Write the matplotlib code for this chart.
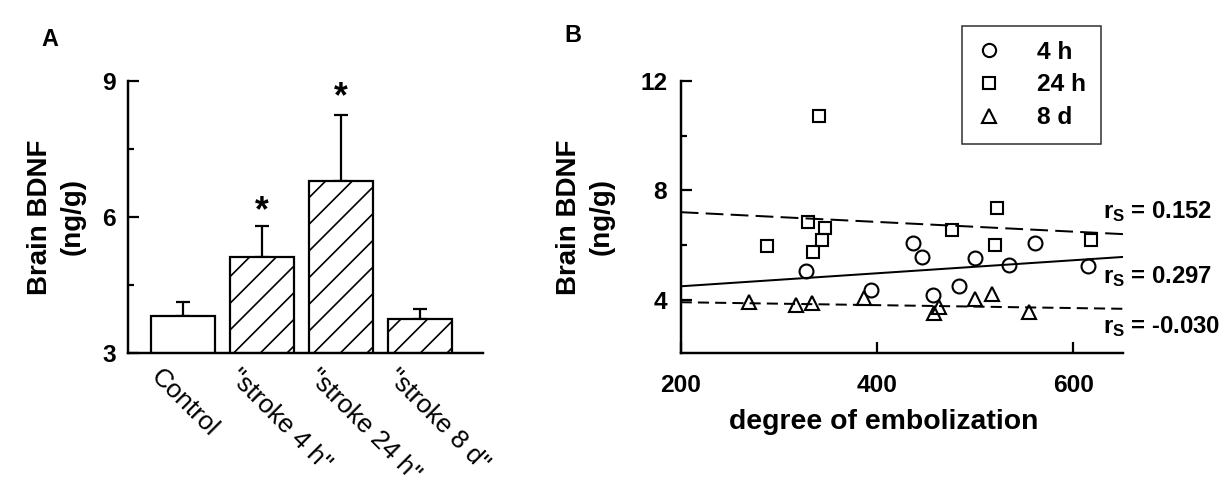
import numpy as np
import matplotlib.pyplot as plt
from matplotlib.ticker import MultipleLocator
import matplotlib.transforms as mtransforms

plt.rcParams['font.family'] = ['Liberation Sans', 'DejaVu Sans']
plt.rcParams['mathtext.fontset'] = 'custom'
plt.rcParams['mathtext.rm'] = 'Liberation Sans:bold'
plt.rcParams['hatch.linewidth'] = 1.5
plt.rcParams['lines.scale_dashes'] = False

# panel A data
groups = ['Control', '"stroke 4 h"', '"stroke 24 h"', '"stroke 8 d"']
bdnf_mean = [3.82, 5.12, 6.80, 3.74]
bdnf_err = [0.31, 0.67, 1.45, 0.23]
hatched = [False, True, True, True]
star_y = [None, 6.12, 8.62, None]

# panel B data (degree of embolization vs brain BDNF)
x_4h = [328, 437, 446, 394, 457, 484, 500, 535, 561, 615]
y_4h = [5.06, 6.08, 5.56, 4.39, 4.20, 4.52, 5.53, 5.29, 6.08, 5.26]
x_24h = [341, 288, 330, 347, 344, 335, 476, 522, 520, 618]
y_24h = [10.70, 5.96, 6.87, 6.63, 6.19, 5.75, 6.56, 7.37, 6.02, 6.20]
x_8d = [270, 317, 334, 387, 458, 463, 500, 517, 555]
y_8d = [3.94, 3.84, 3.90, 4.08, 3.52, 3.76, 4.06, 4.24, 3.58]

# regression lines (end points) and spearman labels
fit_x = [200, 651]
fit_4h = [4.51, 5.58]
fit_24h = [7.21, 6.41]
fit_8d = [3.93, 3.69]
rs_text = ['0.152', '0.297', '-0.030']
rs_y = [7.24, 4.87, 3.05]

DPI = 80
fig = plt.figure(figsize=(1226 / DPI, 487 / DPI), dpi=DPI)
W, H = 1226, 487

def px_axes(left, top, right, bottom):
    return fig.add_axes([left / W, 1 - bottom / H, (right - left) / W, (bottom - top) / H])

def style_axes(ax):
    for s in ['top', 'right']:
        ax.spines[s].set_visible(False)
    for s in ['left', 'bottom']:
        ax.spines[s].set_linewidth(2.2)
    ax.tick_params(which='both', direction='in', width=2, labelsize=22)
    ax.tick_params(which='major', length=10)
    ax.tick_params(which='minor', length=5)
    for lab in ax.get_yticklabels():
        lab.set_fontweight('bold')

# ---------------- Panel A ----------------
axA = px_axes(128, 80.7, 483, 353)
xpos = np.arange(len(groups))
for i in range(len(groups)):
    axA.bar(xpos[i], bdnf_mean[i], width=0.814, bottom=0, color='white',
            edgecolor='black', linewidth=2, hatch='/' if hatched[i] else None, zorder=2)
    axA.errorbar(xpos[i], bdnf_mean[i], yerr=[[0], [bdnf_err[i]]], fmt='none',
                 ecolor='black', elinewidth=2, capsize=6, capthick=2, zorder=1)
    if star_y[i] is not None:
        axA.text(xpos[i], star_y[i], '*', ha='center', va='center',
                 fontsize=32, fontweight='bold')
axA.set_xlim(-0.694, 3.80)
axA.set_ylim(3, 9)
axA.yaxis.set_major_locator(MultipleLocator(3))
axA.yaxis.set_minor_locator(MultipleLocator(1.5))
style_axes(axA)
axA.tick_params(axis='y', pad=11)
axA.set_xticks(xpos)
axA.set_xticklabels(groups, rotation=-45, ha='left', va='top',
                    rotation_mode='anchor', fontsize=23.5)
axA.tick_params(axis='x', length=0, pad=10)
offset = mtransforms.ScaledTranslation(-20 / DPI, 0, fig.dpi_scale_trans)
for lab in axA.get_xticklabels():
    lab.set_transform(lab.get_transform() + offset)
axA.set_ylabel('Brain BDNF\n(ng/g)', fontsize=25, fontweight='bold', linespacing=1.3)
axA.yaxis.set_label_coords(-0.12, 0.5)
fig.text(50 / W, 1 - 40 / H, 'A', fontsize=21, fontweight='bold', ha='center', va='center')

# ---------------- Panel B ----------------
axB = px_axes(680.7, 80.7, 1123.3, 353)
ms = 12.5
axB.plot(x_4h, y_4h, 'o', mfc='none', mec='black', mew=1.9, ms=ms, label='4 h', zorder=3)
axB.plot(x_24h, y_24h, 's', mfc='none', mec='black', mew=1.9, ms=ms - 1, label='24 h', zorder=3)
axB.plot(x_8d, y_8d, '^', mfc='none', mec='black', mew=1.9, ms=ms, label='8 d', zorder=3)
axB.plot(fit_x, fit_4h, '-', color='black', lw=1.8, zorder=2)
axB.plot(fit_x, fit_24h, color='black', lw=1.8, dashes=(16, 6.5), zorder=2)
axB.plot(fit_x, fit_8d, color='black', lw=1.8, dashes=(10, 5.5), zorder=2)
for t, y in zip(rs_text, rs_y):
    axB.text(630, y, r'$\mathrm{r_S}$ = ' + t, fontsize=21.5, fontweight='bold',
             ha='left', va='center', clip_on=False)
axB.set_xlim(200, 651)
axB.set_ylim(2.08, 12)
axB.xaxis.set_major_locator(MultipleLocator(200))
axB.yaxis.set_major_locator(MultipleLocator(4))
axB.yaxis.set_minor_locator(MultipleLocator(2))
style_axes(axB)
for lab in axB.get_xticklabels():
    lab.set_fontweight('bold')
axB.tick_params(axis='y', pad=12)
axB.tick_params(axis='x', pad=19)
axB.set_xlabel('degree of embolization', fontsize=25.5, fontweight='bold')
axB.xaxis.set_label_coords(0.459, -0.205)
axB.set_ylabel('Brain BDNF\n(ng/g)', fontsize=25, fontweight='bold', linespacing=1.3)
axB.yaxis.set_label_coords(-0.15, 0.5)
leg = axB.legend(loc='upper left', bbox_to_anchor=(961.7 / W, 1 - 26 / H),
                 bbox_transform=fig.transFigure, borderaxespad=0, frameon=True,
                 fancybox=False, edgecolor='black', prop={'size': 22, 'weight': 'bold'},
                 handlelength=1.0, handletextpad=1.5, labelspacing=0.4,
                 borderpad=0.6, markerscale=0.95)
leg.get_frame().set_linewidth(1.4)
fig.text(573 / W, 1 - 35 / H, 'B', fontsize=21, fontweight='bold', ha='center', va='center')

fig.savefig('out.png', dpi=DPI, facecolor='white')
